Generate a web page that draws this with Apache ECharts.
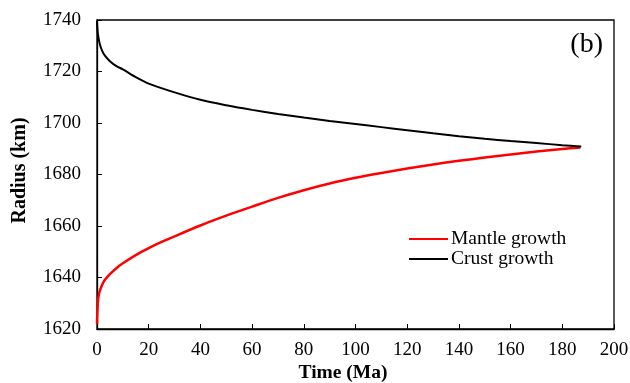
<!DOCTYPE html>
<html>
<head>
<meta charset="utf-8">
<script src="https://cdn.jsdelivr.net/npm/echarts@6/dist/echarts.min.js"></script>
<style>html,body{margin:0;padding:0;background:#fff}#c{width:630px;height:383px}</style>
</head>
<body>
<div id="c"></div>
<script>
const xTicks = [0, 20, 40, 60, 80, 100, 120, 140, 160, 180, 200];
const yTicks = [1620, 1640, 1660, 1680, 1700, 1720, 1740];
const crustTime = [0, 0.3, 1, 2, 3, 5, 7.5, 10, 15, 20, 30, 40, 50, 60, 70, 80, 90, 100, 110, 120, 130, 140, 150, 160, 170, 180, 187];
const crustRadius = [1739.5, 1735, 1731, 1728, 1726.3, 1724, 1722.1, 1720.8, 1717.8, 1715.3, 1711.9, 1709, 1706.9, 1705.1, 1703.5, 1702.1, 1700.8, 1699.6, 1698.4, 1697.2, 1696.0, 1694.9, 1693.9, 1693.0, 1692.2, 1691.4, 1690.9];
const mantleTime = [0, 0.2, 0.5, 1, 2, 3, 5, 7.5, 10, 15, 20, 25, 30, 40, 50, 60, 70, 80, 90, 100, 110, 120, 130, 140, 150, 160, 170, 180, 187];
const mantleRadius = [1622, 1628, 1632, 1634.5, 1637.2, 1639, 1641.3, 1643.6, 1645.5, 1648.7, 1651.4, 1653.8, 1656, 1660.2, 1664, 1667.5, 1670.9, 1673.9, 1676.5, 1678.7, 1680.6, 1682.3, 1683.9, 1685.3, 1686.6, 1687.8, 1688.9, 1689.9, 1690.5];
const seriesNames = ['Mantle growth', 'Crust growth'];
const panelLabel = '(b)';

const font = 'Liberation Serif';
const chart = echarts.init(document.getElementById('c'), null, {renderer: 'canvas'});
chart.setOption({
  animation: false,
  backgroundColor: '#fff',
  grid: {left: 97, right: 16, top: 20, bottom: 54, containLabel: false, outerBoundsMode: 'none', show: true, borderColor: '#000', borderWidth: 1.3, backgroundColor: 'transparent'},
  title: {text: panelLabel, right: 22, top: 26, textStyle: {fontFamily: font, fontSize: 28, fontWeight: 'normal', color: '#000'}},
  legend: {
    data: seriesNames, orient: 'vertical', left: 404, top: 224, itemGap: 0,
    icon: 'rect', itemWidth: 39, itemHeight: 2,
    textStyle: {fontFamily: font, fontSize: 19.5, color: '#000', padding: [0, 0, 0, -2]}
  },
  xAxis: {
    type: 'value', min: 0, max: 200, interval: 20,
    name: 'Time (Ma)', nameLocation: 'middle', nameGap: 34, nameMoveOverlap: false,
    nameTextStyle: {fontFamily: font, fontSize: 19.5, fontWeight: 'bold', color: '#000', padding: [0, 25, 0, 0]},
    axisLine: {show: true, lineStyle: {color: '#000', width: 1.3}},
    axisTick: {show: true, inside: true, length: 5, lineStyle: {color: '#000', width: 1}},
    axisLabel: {fontFamily: font, fontSize: 19, color: '#000', margin: 12, formatter: v => xTicks.includes(v) ? String(v) : ''},
    splitLine: {show: false}
  },
  yAxis: {
    type: 'value', min: 1620, max: 1740, interval: 20,
    name: 'Radius (km)', nameLocation: 'middle', nameGap: 67, nameRotate: 90,
    nameTextStyle: {fontFamily: font, fontSize: 20, fontWeight: 'bold', color: '#000', padding: [0, 0, 0, 8]},
    axisLine: {show: true, lineStyle: {color: '#000', width: 1.3}},
    axisTick: {show: true, inside: true, length: 5, lineStyle: {color: '#000', width: 1}},
    axisLabel: {fontFamily: font, fontSize: 19, color: '#000', margin: 16, formatter: v => yTicks.includes(v) ? String(v) : ''},
    splitLine: {show: false}
  },
  series: [
    {name: seriesNames[0], type: 'line', data: mantleTime.map((t, i) => [t, mantleRadius[i]]), showSymbol: false, smooth: 0.3, lineStyle: {color: '#ff0000', width: 2.5}, itemStyle: {color: '#ff0000'}, z: 3},
    {name: seriesNames[1], type: 'line', data: crustTime.map((t, i) => [t, crustRadius[i]]), showSymbol: false, smooth: 0.3, lineStyle: {color: '#000000', width: 2, cap: 'round'}, itemStyle: {color: '#000000'}, z: 4}
  ]
});
</script>
</body>
</html>
